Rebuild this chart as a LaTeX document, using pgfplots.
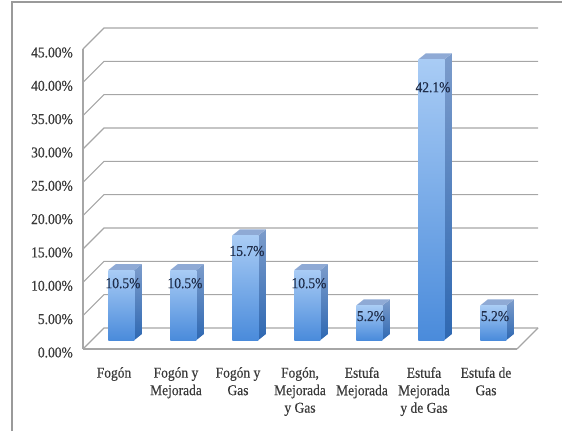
\documentclass[border=0pt]{standalone}
\usepackage{fontspec}
\setmainfont{Liberation Serif}
\newfontfamily\condserif[FakeStretch=0.9, FakeBold=0.4]{Liberation Serif}
\usepackage{pgfplots}
\usepackage{pgfplotstable}
\pgfplotsset{compat=1.18}

\definecolor{gridgray}{HTML}{A6A6A6}
\definecolor{framegray}{HTML}{9A9A9A}
\definecolor{labelgray}{HTML}{3A3A3A}
\definecolor{valnavy}{HTML}{1F2D4A}
\definecolor{fronttop}{HTML}{A9CCF5}
\definecolor{frontbot}{HTML}{4A8BDB}
\definecolor{sidetop}{HTML}{7C9CCB}
\definecolor{sidebot}{HTML}{2E68B2}
\definecolor{topface}{HTML}{8FAAD5}

% share of households by type of stove
\pgfplotstableread{
i v
0 10.5
1 10.5
2 15.7
3 10.5
4 5.2
5 42.1
6 5.2
}\stoves

\newcommand\labfont{\condserif\fontsize{15}{17.5}\selectfont}

\begin{document}
\begin{tikzpicture}[x=1pt,y=1pt]
\useasboundingbox (0,0) rectangle (562,431);
\begin{axis}[
  at={(83pt,82pt)}, anchor=south west,
  scale only axis, width=434pt, height=300pt,
  xmin=-0.5, xmax=6.5, ymin=0, ymax=45,
  clip=false,
  axis x line*=bottom, axis y line*=left,
  axis line style={gridgray, line width=1.1pt},
  major tick length=0pt,
  ytick={0,5,...,45},
  yticklabel={\pgfmathprintnumber[fixed,fixed zerofill,precision=2]{\tick}\%},
  /pgf/number format/assume math mode=true,
  yticklabel style={font=\labfont, text=labelgray, anchor=east, inner sep=0pt, xshift=-10pt, yshift=-3.5pt},
  xtick={0,...,6},
  xticklabels={Fogón, Fogón y\\Mejorada, Fogón y\\Gas, {Fogón,\\Mejorada\\y Gas}, Estufa\\Mejorada, Estufa\\Mejorada\\y de Gas, Estufa de\\Gas},
  xticklabel style={font=\labfont, text=labelgray, align=center, anchor=north, inner sep=0pt, yshift=-18pt},
]
% back wall and left wall gridlines
\pgfplotsinvokeforeach{0,5,...,45}{
  \pgfmathsetmacro\gb{#1+3.15}
  \edef\gridline{\noexpand\addplot[gridgray, line width=1.1pt] coordinates {(-0.5,#1) (-0.1613,\gb) (6.8387,\gb)};}
  \gridline
}
% right edge of the floor
\addplot[gridgray, line width=1.1pt] coordinates {(6.5,0) (6.8387,3.15)};

% bars: side face, top face, front face
\pgfplotsinvokeforeach{0,...,6}{
  \pgfplotstablegetelem{#1}{v}\of\stoves
  \let\val\pgfplotsretval
  \pgfmathsetmacro\xl{#1+0.12-0.21}
  \pgfmathsetmacro\xr{#1+0.12+0.21}
  \pgfmathsetmacro\xld{\xl+0.121}
  \pgfmathsetmacro\xrd{\xr+0.121}
  \pgfmathsetmacro\yb{1.35}
  \pgfmathsetmacro\yt{1.35+\val}
  \pgfmathsetmacro\ybd{1.35+0.9}
  \pgfmathsetmacro\ytd{1.35+\val+0.9}
  \edef\drawbar{%
    \noexpand\addplot[draw=none, top color=sidetop, bottom color=sidebot] coordinates {(\xr,\yb) (\xrd,\ybd) (\xrd,\ytd) (\xr,\yt)};
    \noexpand\addplot[draw=none, fill=topface] coordinates {(\xl,\yt) (\xld,\ytd) (\xrd,\ytd) (\xr,\yt)};
    \noexpand\addplot[draw=none, top color=fronttop, bottom color=frontbot] coordinates {(\xl,\yb) (\xr,\yb) (\xr,\yt) (\xl,\yt)};
  }%
  \drawbar
}

% value labels
\addplot[draw=none, mark=none, point meta=\thisrow{v},
  nodes near coords={\pgfmathprintnumber[fixed,fixed zerofill,precision=1]{\pgfplotspointmeta}\%},
  every node near coord/.append style={anchor=center, inner sep=0pt, font=\labfont, text=valnavy}]
  table[x expr=\thisrow{i}+0.145, y expr=0.93*\thisrow{v}+0.1] {\stoves};
\end{axis}
% chart area frame
\draw[framegray, line width=1.5pt] (12,0) -- (12,429) -- (562,429);
\end{tikzpicture}
\end{document}
